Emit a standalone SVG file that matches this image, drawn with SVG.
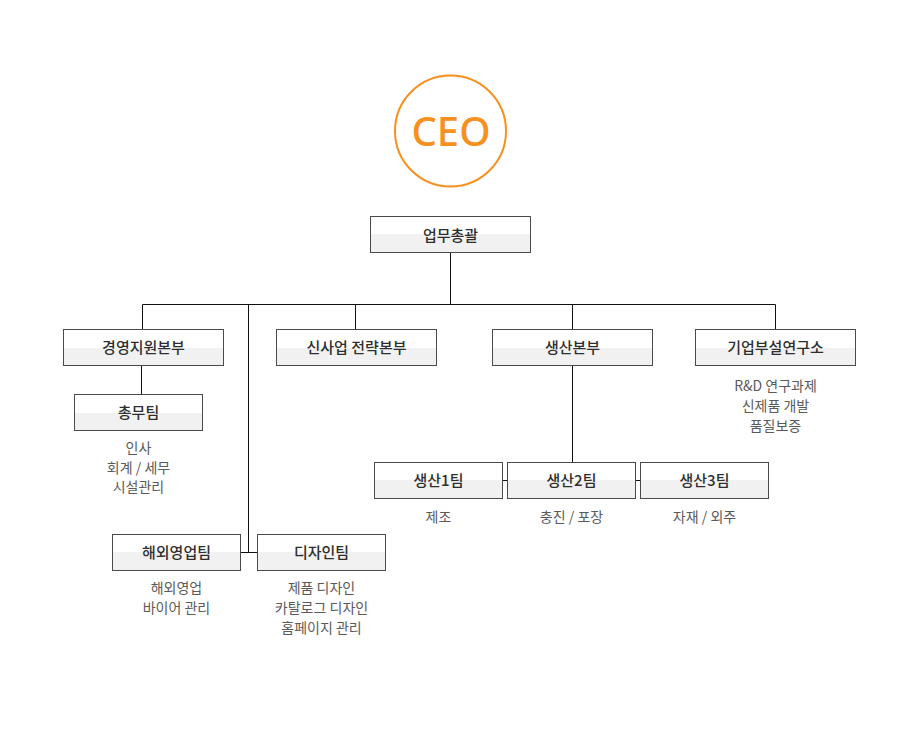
<svg xmlns="http://www.w3.org/2000/svg" width="900" height="756" viewBox="0 0 900 756">
<style>
.box{fill:url(#half);stroke:#4a4a4a;stroke-width:1}
.lbl{font-family:"Noto Sans CJK KR","Noto Sans",sans-serif;font-size:15px;font-weight:500;fill:#2e2e2e;text-anchor:middle}
.sub{font-family:"Noto Sans CJK KR","Noto Sans",sans-serif;font-size:14px;fill:#5a5a5a;text-anchor:middle}
.ln{stroke:#111;stroke-width:1;fill:none}
</style>
<defs>
<linearGradient id="half" x1="0" y1="0" x2="0" y2="1">
<stop offset="0" stop-color="#ffffff"/>
<stop offset="0.5" stop-color="#ffffff"/>
<stop offset="0.5" stop-color="#f1f1f1"/>
<stop offset="1" stop-color="#f1f1f1"/>
</linearGradient>
</defs>
<rect width="900" height="756" fill="#fff"/>
<g id="connectors" class="ln">
<path d="M450.5 252.5V304.5M142.5 304.5H775.5M142.5 304.5V329.5M355.5 304.5V329.5M572.5 304.5V329.5M775.5 304.5V329.5"/>
<path d="M248.5 304.5V552.5M240.5 552.5H257.5"/>
<path d="M141.5 365.5V394.5"/>
<path d="M572.5 365.5V462.5M502.5 480.5H507.5M635.5 480.5H640.5"/>
</g>
<g id="ceo">
<circle cx="450.5" cy="131" r="55.5" fill="#fff" stroke="#f7901e" stroke-width="2"/>
<text x="451" y="145.5" font-family="Noto Sans,sans-serif" font-size="40" font-weight="500" fill="#f7901e" text-anchor="middle">CEO</text>
</g>
<g id="n-general">
<rect class="box" x="370.5" y="216.5" width="160" height="36"/>
<text class="lbl" x="450.5" y="241">업무총괄</text>
</g>
<g id="n-management">
<rect class="box" x="63.5" y="329.5" width="160" height="36"/>
<text class="lbl" x="143.5" y="353">경영지원본부</text>
</g>
<g id="n-newbiz">
<rect class="box" x="276.5" y="329.5" width="160" height="36"/>
<text class="lbl" x="356.5" y="353">신사업 전략본부</text>
</g>
<g id="n-production">
<rect class="box" x="492.5" y="329.5" width="160" height="36"/>
<text class="lbl" x="572.5" y="353">생산본부</text>
</g>
<g id="n-lab">
<rect class="box" x="695.5" y="329.5" width="160" height="36"/>
<text class="lbl" x="775.5" y="353">기업부설연구소</text>
<text class="sub" x="775.5" y="391">R&amp;D 연구과제</text>
<text class="sub" x="775.5" y="411">신제품 개발</text>
<text class="sub" x="775.5" y="431">품질보증</text>
</g>
<g id="n-admin">
<rect class="box" x="74.5" y="394.5" width="128" height="36"/>
<text class="lbl" x="138.5" y="418">총무팀</text>
<text class="sub" x="138.5" y="453">인사</text>
<text class="sub" x="138.5" y="473">회계 / 세무</text>
<text class="sub" x="138.5" y="492">시설관리</text>
</g>
<g id="n-overseas">
<rect class="box" x="112.5" y="534.5" width="128" height="36"/>
<text class="lbl" x="176.5" y="558">해외영업팀</text>
<text class="sub" x="176.5" y="593">해외영업</text>
<text class="sub" x="176.5" y="613">바이어 관리</text>
</g>
<g id="n-design">
<rect class="box" x="257.5" y="534.5" width="128" height="36"/>
<text class="lbl" x="321.5" y="558">디자인팀</text>
<text class="sub" x="321.5" y="593">제품 디자인</text>
<text class="sub" x="321.5" y="613">카탈로그 디자인</text>
<text class="sub" x="321.5" y="633">홈페이지 관리</text>
</g>
<g id="n-prod1">
<rect class="box" x="374.5" y="462.5" width="128" height="36"/>
<text class="lbl" x="438.5" y="486">생산1팀</text>
<text class="sub" x="438.5" y="522">제조</text>
</g>
<g id="n-prod2">
<rect class="box" x="507.5" y="462.5" width="128" height="36"/>
<text class="lbl" x="571.5" y="486">생산2팀</text>
<text class="sub" x="571.5" y="522">충진 / 포장</text>
</g>
<g id="n-prod3">
<rect class="box" x="640.5" y="462.5" width="128" height="36"/>
<text class="lbl" x="704.5" y="486">생산3팀</text>
<text class="sub" x="704.5" y="522">자재 / 외주</text>
</g>
</svg>
